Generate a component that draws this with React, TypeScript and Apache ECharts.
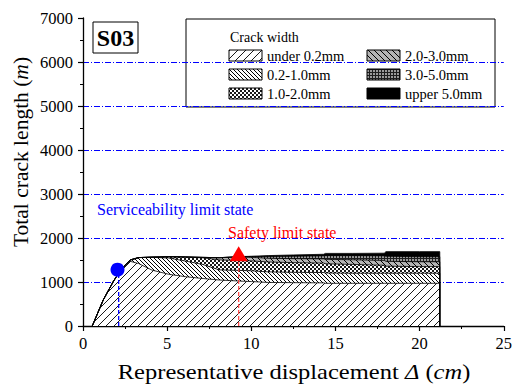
import React, { useEffect, useRef } from 'react';
import * as echarts from 'echarts';

// Displacement (cm) sample points
const xs = [0.55, 1.2, 1.8, 2.2, 2.5, 2.8, 3.3, 4.1, 5.1, 6.1, 7.1, 8.1, 9.1, 10, 11, 12.5, 14.3, 14.4, 16, 17.9, 18.0, 20, 21.2, 21.2];
// Crack length increments (m) for each crack width class
const under02 = [0, 590, 1010, 1250, 1380, 1470, 1420, 1270, 1175, 1120, 1080, 1045, 1025, 1010, 990, 985, 980, 970, 970, 970, 970, 970, 970, 0];
const w02to10 = [0, 0, 0, 0, 0, 30, 135, 290, 370, 355, 320, 230, 240, 245, 240, 235, 235, 235, 230, 230, 230, 230, 230, 0];
const w10to20 = [0, 0, 0, 0, 0, 0, 0, 5, 30, 90, 150, 227, 225, 225, 225, 220, 215, 210, 200, 180, 160, 150, 150, 0];
const w20to30 = [0, 0, 0, 0, 0, 0, 0, 0, 0, 5, 10, 50, 75, 80, 85, 90, 95, 100, 105, 110, 110, 110, 110, 0];
const w30to50 = [0, 0, 0, 0, 0, 0, 0, 0, 0, 0, 0, 0, 10, 20, 40, 55, 70, 85, 95, 105, 115, 115, 115, 0];
const over50 = [0, 0, 0, 0, 0, 0, 0, 0, 0, 0, 0, 0, 0, 5, 20, 30, 35, 50, 50, 60, 105, 115, 115, 0];

const layerNames = ['under 0.2mm', '0.2-1.0mm', '1.0-2.0mm', '2.0-3.0mm', '3.0-5.0mm', 'upper 5.0mm'];
const layerValues = [under02, w02to10, w10to20, w20to30, w30to50, over50];

const serviceabilityPoint = [2.05, 1280];
const safetyPoint = [9.25, 1640];
const serviceabilityLabel = 'Serviceability limit state';
const safetyLabel = 'Safety limit state';
const specimen = 'S03';
const legendTitle = 'Crack width';
const xTitle = '{n|Representative displacement }{i|Δ}{n| (}{i|cm}{n|)}';
const yTitle = '{n|Total crack length (}{i|m}{n|)}';

const SERIF = '"Liberation Serif", "Times New Roman", serif';

function makePattern(w: number, h: number, draw: (ctx: CanvasRenderingContext2D) => void): any {
  const c = document.createElement('canvas');
  c.width = w;
  c.height = h;
  const ctx = c.getContext('2d') as CanvasRenderingContext2D;
  draw(ctx);
  return { image: c, repeat: 'repeat', imageWidth: w, imageHeight: h };
}

function slashPattern(s: number, bg: string, fg: string, back: boolean, lw: number) {
  return makePattern(s, s, (ctx) => {
    ctx.fillStyle = bg;
    ctx.fillRect(0, 0, s, s);
    ctx.strokeStyle = fg;
    ctx.lineWidth = lw;
    ctx.beginPath();
    if (!back) {
      ctx.moveTo(0, s); ctx.lineTo(s, 0);
      ctx.moveTo(-s / 2, s / 2); ctx.lineTo(s / 2, -s / 2);
      ctx.moveTo(s / 2, s * 1.5); ctx.lineTo(s * 1.5, s / 2);
    } else {
      ctx.moveTo(0, 0); ctx.lineTo(s, s);
      ctx.moveTo(s / 2, -s / 2); ctx.lineTo(s * 1.5, s / 2);
      ctx.moveTo(-s / 2, s / 2); ctx.lineTo(s / 2, s * 1.5);
    }
    ctx.stroke();
  });
}

function buildPatterns() {
  return [
    slashPattern(8, '#ffffff', '#000000', false, 0.9),
    slashPattern(4, '#ffffff', '#000000', true, 1),
    makePattern(4, 4, (ctx) => {
      ctx.fillStyle = '#1a1a1a';
      ctx.fillRect(0, 0, 4, 4);
      ctx.fillStyle = '#ffffff';
      ctx.fillRect(0, 0, 2, 2);
      ctx.fillRect(2, 2, 2, 2);
    }),
    slashPattern(6, '#b4b4b4', '#000000', true, 1),
    makePattern(3, 3, (ctx) => {
      ctx.fillStyle = '#1e1e1e';
      ctx.fillRect(0, 0, 3, 3);
      ctx.fillStyle = '#9a9a9a';
      ctx.fillRect(1, 1, 2, 2);
    }),
    '#000000',
  ];
}

const titleRich = {
  n: { fontFamily: SERIF, fontSize: 21.5, fill: '#000' },
  i: { fontFamily: SERIF, fontSize: 21.5, fill: '#000', fontStyle: 'italic' },
};

export default function App() {
  const ref = useRef<HTMLDivElement>(null);

  useEffect(() => {
    if (!ref.current) return;
    const chart = echarts.init(ref.current, undefined, { renderer: 'svg' });
    const patterns = buildPatterns();

    // cumulative totals (stacked tops) built from the increments
    const cumulative: number[][] = [];
    layerValues.forEach((vals, i) => {
      cumulative.push(vals.map((v, j) => v + (i > 0 ? cumulative[i - 1][j] : 0)));
    });

    // draw topmost layer first; each lower layer covers the part below its top
    const areaSeries: any[] = [];
    for (let i = layerNames.length - 1; i >= 0; i--) {
      areaSeries.push({
        name: layerNames[i],
        type: 'line',
        symbol: 'none',
        data: xs.map((x, j) => [x, cumulative[i][j]]),
        lineStyle: { color: '#000', width: 0.8 },
        areaStyle: { color: patterns[i], opacity: 1, origin: 'start' },
        z: 2,
      });
    }

    const rowY = [50, 69, 88];
    const colX = [229, 367];
    const legendItems: any[] = [];
    layerNames.forEach((name, i) => {
      const col = i < 3 ? 0 : 1;
      const row = i % 3;
      legendItems.push({
        type: 'rect',
        shape: { x: colX[col], y: rowY[row], width: 33, height: 11 },
        style: { fill: patterns[i], stroke: '#000', lineWidth: 1 },
      });
      legendItems.push({
        type: 'text',
        x: colX[col] + 38,
        y: rowY[row] + 5.5,
        style: { text: name, fill: '#000', fontSize: 14.5, fontFamily: SERIF, verticalAlign: 'middle' },
      });
    });

    chart.setOption({
      animation: false,
      backgroundColor: '#fff',
      grid: { left: 83, right: 10, top: 18, bottom: 61, containLabel: false },
      xAxis: {
        type: 'value',
        min: 0,
        max: 25,
        interval: 5,
        axisLine: { lineStyle: { color: '#000', width: 1.3 } },
        axisTick: { inside: false, length: 5, lineStyle: { color: '#000', width: 1.2 } },
        minorTick: { show: true, splitNumber: 2, length: 3, lineStyle: { color: '#000', width: 1 } },
        axisLabel: { color: '#000', fontSize: 16.5, fontFamily: SERIF, margin: 9, formatter: (v: number) => String(v) },
        splitLine: { show: false },
      },
      yAxis: {
        type: 'value',
        min: 0,
        max: 7000,
        interval: 1000,
        axisLine: { show: true, lineStyle: { color: '#000', width: 1.3 } },
        axisTick: { show: true, inside: false, length: 5, lineStyle: { color: '#000', width: 1.2 } },
        minorTick: { show: true, splitNumber: 2, length: 3, lineStyle: { color: '#000', width: 1 } },
        axisLabel: { color: '#000', fontSize: 16.5, fontFamily: SERIF, margin: 10, formatter: (v: number) => String(v) },
        splitLine: {
          show: true,
          showMinLine: false,
          showMaxLine: false,
          lineStyle: { color: '#0000ff', width: 1, type: [6, 2, 1, 2] },
        },
      },
      series: [
        ...areaSeries,
        {
          name: 'sls-line',
          type: 'line',
          symbol: 'none',
          data: [[serviceabilityPoint[0] + 0.07, 0], [serviceabilityPoint[0] + 0.07, serviceabilityPoint[1]]],
          lineStyle: { color: '#0000ff', width: 1.3, type: [4, 2] },
          z: 5,
        },
        {
          name: 'ult-line',
          type: 'line',
          symbol: 'none',
          data: [[safetyPoint[0], 0], safetyPoint],
          lineStyle: { color: '#ff4040', width: 1.2, type: [4, 2] },
          z: 5,
        },
        {
          name: 'sls',
          type: 'scatter',
          symbol: 'circle',
          symbolSize: 14,
          data: [serviceabilityPoint],
          itemStyle: { color: '#0000ff', opacity: 1 },
          z: 6,
        },
        {
          name: 'ult',
          type: 'scatter',
          symbol: 'triangle',
          symbolSize: [18, 15],
          data: [safetyPoint],
          itemStyle: { color: '#ff0000', opacity: 1 },
          z: 6,
        },
      ],
      graphic: [
        {
          type: 'text',
          x: 21,
          y: 152,
          rotation: Math.PI / 2,
          z: 10,
          style: { text: yTitle, rich: titleRich, align: 'center', verticalAlign: 'middle', fill: '#000' },
        },
        {
          type: 'text',
          x: 294,
          y: 372,
          scaleX: 1.14,
          z: 10,
          style: { text: xTitle, rich: titleRich, align: 'center', verticalAlign: 'middle', fill: '#000' },
        },
        {
          type: 'text',
          x: 97,
          y: 209,
          z: 10,
          style: { text: serviceabilityLabel, fill: '#0000ff', fontSize: 16, fontFamily: SERIF, verticalAlign: 'middle' },
        },
        {
          type: 'text',
          x: 228,
          y: 232,
          z: 10,
          style: { text: safetyLabel, fill: '#ff0000', fontSize: 16, fontFamily: SERIF, verticalAlign: 'middle' },
        },
        {
          type: 'rect',
          z: 10,
          shape: { x: 93, y: 22, width: 45, height: 31 },
          style: { fill: '#fff', stroke: '#000', lineWidth: 1 },
        },
        {
          type: 'text',
          x: 115.5,
          y: 38,
          z: 11,
          style: { text: specimen, fill: '#000', fontSize: 24, fontWeight: 'bold', fontFamily: SERIF, align: 'center', verticalAlign: 'middle' },
        },
        {
          type: 'group',
          z: 10,
          children: [
            {
              type: 'rect',
              shape: { x: 186, y: 19, width: 309, height: 88 },
              style: { fill: '#fff', stroke: '#000', lineWidth: 1 },
            },
            {
              type: 'text',
              x: 230,
              y: 37,
              style: { text: legendTitle, fill: '#000', fontSize: 14, fontFamily: SERIF, verticalAlign: 'middle' },
            },
            ...legendItems,
          ],
        },
      ],
    });

    return () => chart.dispose();
  }, []);

  return <div ref={ref} style={{ width: 515, height: 387, position: 'absolute', left: 0, top: 0 }} />;
}
